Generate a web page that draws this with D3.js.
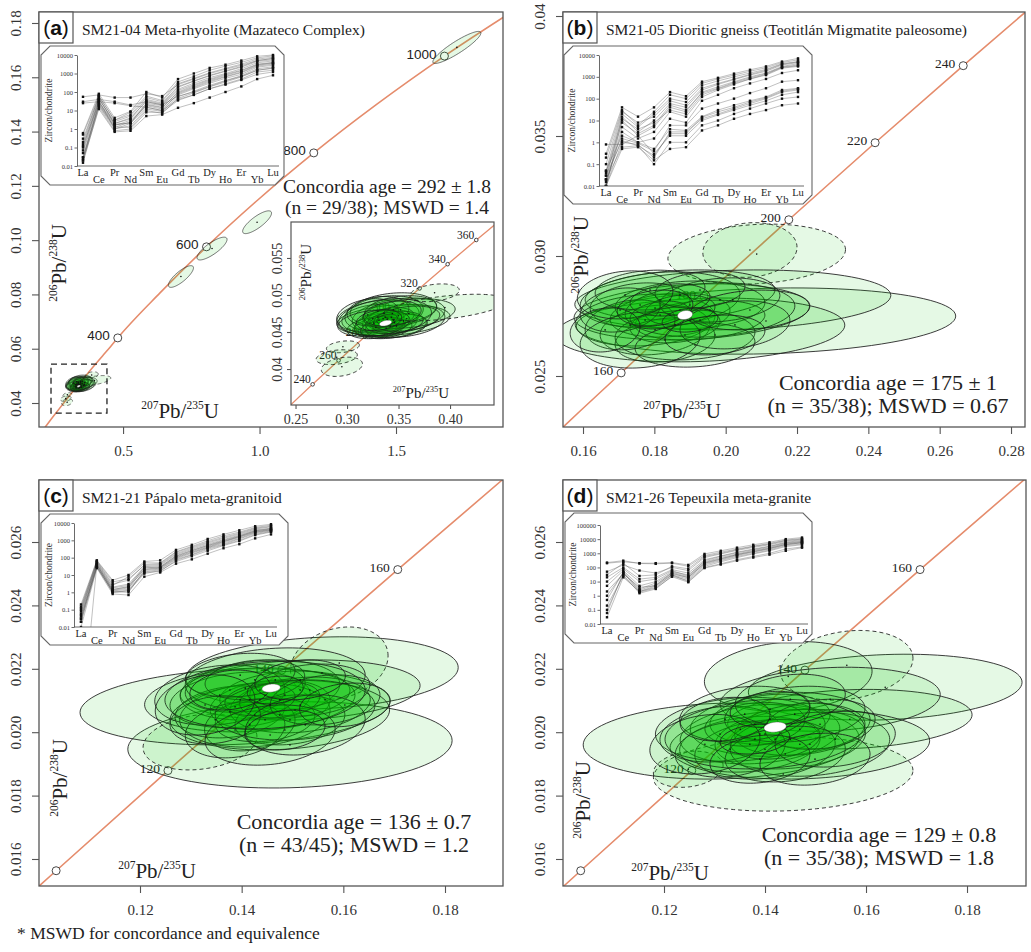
<!DOCTYPE html>
<html><head><meta charset="utf-8">
<script src="https://cdn.jsdelivr.net/npm/d3@7/dist/d3.min.js"></script>
<style>body{margin:0;background:#fff}svg{display:block}</style>
</head><body>
<svg id="fig" width="1031" height="952"></svg>
<script>
// ---------------- data ----------------
const reeElements = ["La","Ce","Pr","Nd","Sm","Eu","Gd","Tb","Dy","Ho","Er","Yb","Lu"];

// chondrite-normalised zircon REE patterns (one row per grain)
const reeA = [
[0.02,20,1.2,2.5,18,12,70,150,300,550,900,2200,2800],
[0.03,25,1.5,3,22,15,90,190,400,700,1200,2800,3600],
[0.015,15,0.8,1,8,8,35,70,150,280,500,1200,1500],
[0.05,30,2,4,30,20,140,300,600,1000,1800,3800,4800],
[0.1,40,2.5,5,40,25,200,400,800,1400,2400,5000,6500],
[0.2,60,3,8,60,35,350,700,1500,2500,4000,7000,9000],
[0.6,80,4,9,100,50,500,1000,2000,3000,5000,8500,10000],
[0.02,12,0.7,0.8,5,6,14,25,50,100,200,500,800],
[30,40,30,20,30,20,60,100,200,400,700,1500,2000],
[55,70,50,50,80,60,250,500,1000,1700,2800,5000,6500],
[25,30,25,18,15,10,40,70,150,250,450,900,1200],
[0.3,50,1.8,2,25,18,120,250,500,900,1500,3200,4000],
[0.07,35,1,1.5,12,9,55,110,230,420,750,1800,2300],
[0.15,45,2,3.5,35,22,180,380,750,1300,2200,4500,5500],
[0.03,18,1,2,15,10,80,170,350,650,1100,2500,3200],
[0.5,60,3,6,50,30,280,550,1100,1900,3200,6000,7500],
[0.025,22,1.3,1.2,10,7,45,90,190,350,650,1500,1900],
[0.12,28,1.7,2.2,20,14,100,220,450,800,1400,3000,3800]
];
const reeB = [
[0.01,10,2,5,40,25,200,350,600,1000,1500,3000,4000],
[0.02,15,3,10,60,40,250,450,750,1200,1800,3500,4500],
[0.05,20,5,20,100,70,400,650,1000,1500,2200,4000,5000],
[0.3,40,15,40,200,130,600,900,1400,2100,3000,5000,7000],
[0.01,5,1.5,3,25,15,120,250,450,800,1200,2500,3000],
[0.03,8,2.5,6,50,30,180,300,550,900,1400,2800,3500],
[0.015,3,1,1.5,12,8,80,150,300,500,800,1500,2000],
[0.1,25,8,15,80,50,300,500,800,1300,2000,3800,4800],
[0.01,1,0.8,0.2,3,3,12,20,35,60,100,200,250],
[0.02,0.6,0.7,0.1,1,1,6,10,20,35,60,100,120],
[0.05,2,1,0.5,4,3.5,15,30,50,80,120,250,300],
[0.01,0.5,0.6,0.15,0.5,0.6,3.5,6,12,20,30,50,60],
[0.8,0.8,2,0.3,2,2,10,18,30,50,80,150,200],
[0.02,1.5,0.9,0.4,6,6,35,60,100,180,300,600,700],
[0.04,12,4,8,30,20,150,280,500,800,1300,2700,3200],
[0.2,30,6,25,150,100,500,800,1200,1800,2600,4500,6000],
[0.03,1.2,0.7,0.25,2.5,2.5,14,25,40,70,110,220,280]
];
const reeC = [
[0.02,30,1.2,1.5,15,20,80,150,350,600,1200,2500,3500],
[0.05,40,1.5,2,20,25,100,200,400,800,1500,3000,4000],
[0.1,50,2,3,30,35,150,300,600,1100,2000,4000,5000],
[0.2,70,5,10,60,70,280,550,1200,2200,3800,6500,8500],
[0.01,25,0.8,0.7,8,14,45,80,170,350,600,1300,2200],
[0.03,35,1,1.2,12,18,60,120,250,500,900,2000,3000],
[0.08,45,1.8,2.5,25,30,120,250,500,900,1700,3500,4500],
[0.15,60,3,5,40,45,200,400,800,1500,2600,5000,6500],
[0.04,30,1.1,1,18,22,90,180,380,700,1300,2800,3800],
[0.06,55,2.5,8,50,50,220,450,950,1800,3000,5500,7500],
[1e-8,40,1.3,1.8,22,26,110,220,450,850,1600,3200,4200],
[0.02,28,1,1.3,14,16,70,140,300,550,1000,2200,3200],
[0.12,65,4,6,35,40,170,350,700,1300,2300,4500,6000],
[0.03,38,1.4,2.2,28,28,130,260,520,1000,1800,3600,4800]
];
const reeD = [
[200,250,200,200,220,150,900,1500,2500,4000,6000,10000,13000],
[220,300,190,180,200,120,700,1200,2000,3200,5000,8500,11000],
[50,150,60,40,100,60,500,900,1600,2600,4000,7000,9000],
[20,100,15,20,70,40,350,650,1200,2000,3200,6000,8000],
[5,60,5,10,50,30,250,500,900,1600,2600,5000,6500],
[1,40,2.5,6,35,20,180,350,700,1200,2000,4000,5500],
[0.1,30,1.5,3,25,12,120,250,500,900,1500,3000,4000],
[0.03,20,2,4,30,10,100,180,350,600,1000,2000,2800],
[10,80,10,15,60,25,300,600,1100,1800,3000,5500,7000],
[0.5,50,3,8,40,18,200,400,800,1300,2200,4200,5500],
[2,35,4,5,30,15,150,300,600,1000,1700,3500,4500],
[0.2,25,1.8,3.5,22,9,90,160,300,500,800,1500,2500],
[30,200,25,30,120,80,600,1000,1800,3000,4500,8000,10000],
[0.06,45,2,5,45,22,220,420,800,1400,2300,4500,6000]
];

// concordia table: [age (Ma), 207Pb/235U, 206Pb/238U]
const concordiaA = [
[180,0.1939,0.02832],[200,0.2177,0.03151],[220,0.2419,0.03472],[240,0.2666,0.03793],
[260,0.2918,0.04116],[280,0.3175,0.04439],[300,0.3437,0.04764],[320,0.3705,0.05089],
[340,0.3977,0.05416],[360,0.4255,0.05743],[380,0.4539,0.06072],[400,0.4806,0.06398],
[500,0.6362,0.08065],[600,0.8057,0.09754],[700,0.9925,0.11470],[800,1.1987,0.13214],
[900,1.4264,0.14983],[1000,1.6774,0.16781],[1100,1.9546,0.18605]];
const concordiaB = [
[140,0.1479,0.02196],[150,0.1592,0.02354],[160,0.1707,0.02513],[180,0.1939,0.02832],
[200,0.2177,0.03151],[220,0.2419,0.03472],[240,0.2666,0.03793],[260,0.2918,0.04116]];
const concordiaC = [
[95,0.0981,0.01485],[100,0.1035,0.01563],[120,0.1255,0.01879],[140,0.1479,0.02196],
[160,0.1707,0.02513],[180,0.1939,0.02832]];
const concordiaD = concordiaC;

// ages marked with a circle, and those that also carry a label
const markAgesA = [400,600,800,1000], labelAgesA = [400,600,800,1000];
const markAgesAInset = [240,260,280,300,320,340,360], labelAgesAInset = [240,260,280,300,320,340,360];
const markAgesB = [160,180,200,220,240], labelAgesB = [160,180,200,220,240];
const markAgesC = [100,120,140,160], labelAgesC = [120,140,160];
const markAgesD = [100,120,140,160], labelAgesD = [120,140,160];

// error ellipses: [207/235, 206/238, half-width x, half-height y, rho, excluded]
const ellipsesA = [
[0.345,0.0466,0.055,0.0021,0.25,0],[0.330,0.0470,0.040,0.0023,0.25,0],[0.350,0.0472,0.045,0.0024,0.3,0],
[0.338,0.0462,0.030,0.0018,0.25,0],[0.342,0.0458,0.035,0.0017,0.3,0],[0.325,0.0468,0.030,0.0019,0.2,0],
[0.355,0.0465,0.040,0.0022,0.25,0],[0.336,0.0475,0.038,0.0024,0.25,0],[0.332,0.0460,0.025,0.0016,0.3,0],
[0.345,0.0480,0.042,0.0023,0.2,0],[0.340,0.0465,0.020,0.0012,0.3,0],[0.328,0.0456,0.028,0.0015,0.25,0],
[0.348,0.0458,0.030,0.0016,0.3,0],[0.335,0.0468,0.018,0.0011,0.3,0],[0.360,0.0475,0.045,0.0020,0.3,0],
[0.320,0.0473,0.030,0.0022,0.25,0],[0.343,0.0470,0.022,0.0013,0.25,0],[0.338,0.0455,0.025,0.0013,0.3,0],
[0.352,0.0480,0.035,0.0019,0.25,0],[0.330,0.0478,0.030,0.0020,0.2,0],[0.340,0.0460,0.015,0.0010,0.3,0],
[0.346,0.0463,0.028,0.0015,0.25,0],[0.334,0.0464,0.012,0.0008,0.3,0],[0.326,0.0462,0.035,0.0018,0.25,0],
[0.358,0.0468,0.032,0.0017,0.3,0],[0.337,0.0470,0.045,0.0025,0.25,0],[0.344,0.0475,0.028,0.0017,0.25,0],
[0.339,0.0467,0.010,0.0007,0.3,0],[0.331,0.0466,0.022,0.0014,0.25,0],
[0.395,0.0483,0.060,0.0018,0.5,1],[0.385,0.0503,0.024,0.0012,0.3,1],[0.296,0.0430,0.016,0.0008,0.3,1],
[0.290,0.0416,0.020,0.0010,0.3,1],[0.295,0.0403,0.020,0.0013,0.3,1],
[1.723,0.1710,0.088,0.0059,0.9,0],[0.991,0.1066,0.053,0.0042,0.8,0],
[0.826,0.0969,0.055,0.0042,0.8,0],[0.712,0.0866,0.046,0.0040,0.8,0]];
const ellipsesB = [
[0.2087,0.03008,0.0249,0.00125,0.15,1],[0.2068,0.03025,0.0132,0.00114,0.1,1],
[0.2113,0.02729,0.0532,0.00138,0.15,0],[0.2020,0.02817,0.0443,0.00125,0.15,0],
[0.1928,0.02692,0.0406,0.00133,0.15,0],[0.1905,0.02767,0.0330,0.00117,0.2,0],
[0.1872,0.02838,0.0266,0.00104,0.2,0],
[0.1816,0.02817,0.0224,0.00117,0.2,0],[0.1774,0.02733,0.0196,0.00108,0.15,0],
[0.1844,0.02754,0.0168,0.00092,0.2,0],[0.1900,0.02796,0.0210,0.00100,0.1,0],
[0.1802,0.02692,0.0154,0.00104,0.2,0],[0.1928,0.02733,0.0182,0.00083,0.25,0],
[0.1760,0.02796,0.0140,0.00092,0.15,0],[0.1858,0.02713,0.0126,0.00075,0.2,0],
[0.1956,0.02775,0.0238,0.00113,0.15,0],[0.1830,0.02650,0.0140,0.00092,0.2,0],
[0.1886,0.02671,0.0196,0.00104,0.1,0],[0.1732,0.02713,0.0126,0.00104,0.2,0],
[0.1984,0.02817,0.0168,0.00092,0.2,0],[0.1788,0.02858,0.0154,0.00083,0.15,0],
[0.1872,0.02775,0.0098,0.00063,0.2,0],[0.1914,0.02629,0.0168,0.00092,0.15,0],
[0.1704,0.02775,0.0112,0.00092,0.2,0],[0.2026,0.02713,0.0154,0.00100,0.2,0],
[0.1816,0.02754,0.0084,0.00058,0.25,0],[0.1928,0.02858,0.0126,0.00075,0.2,0],
[0.1760,0.02650,0.0168,0.00117,0.15,0],[0.2068,0.02775,0.0168,0.00083,0.2,0],
[0.1844,0.02817,0.0112,0.00067,0.2,0],[0.1718,0.02838,0.0134,0.00100,0.15,0],
[0.1900,0.02733,0.0078,0.00050,0.2,0],[0.1970,0.02671,0.0140,0.00083,0.2,0],
[0.1802,0.02783,0.0106,0.00075,0.2,0],[0.1662,0.02692,0.0098,0.00092,0.15,0]];
const ellipsesC = [
[0.1495,0.01960,0.0319,0.00136,0.1,0],[0.1387,0.02080,0.0305,0.00120,0.15,0],
[0.1558,0.02187,0.0268,0.00114,0.15,0],[0.1592,0.02218,0.0096,0.00114,0.2,1],
[0.1318,0.01969,0.0112,0.00088,0.2,1],[0.1515,0.02133,0.0236,0.00095,0.15,0],
[0.1416,0.02102,0.0207,0.00101,0.15,0],[0.1475,0.02054,0.0216,0.00110,0.15,0],
[0.1397,0.02102,0.0138,0.00088,0.2,0],[0.1436,0.02133,0.0157,0.00095,0.2,0],
[0.1456,0.02086,0.0118,0.00079,0.2,0],[0.1426,0.02054,0.0148,0.00101,0.15,0],
[0.1485,0.02117,0.0128,0.00076,0.2,0],[0.1377,0.02064,0.0108,0.00082,0.2,0],
[0.1515,0.02086,0.0138,0.00088,0.2,0],[0.1407,0.02139,0.0118,0.00076,0.2,0],
[0.1466,0.02165,0.0177,0.00101,0.15,0],[0.1446,0.02039,0.0098,0.00069,0.2,0],
[0.1357,0.02117,0.0128,0.00095,0.2,0],[0.1495,0.02039,0.0108,0.00079,0.2,0],
[0.1416,0.02023,0.0089,0.00082,0.2,0],[0.1534,0.02133,0.0118,0.00082,0.2,0],
[0.1387,0.02007,0.0098,0.00088,0.2,0],[0.1475,0.02102,0.0079,0.00057,0.2,0],
[0.1436,0.02102,0.0069,0.00050,0.2,0],[0.1426,0.02165,0.0098,0.00063,0.2,0],
[0.1505,0.02070,0.0157,0.00095,0.15,0],[0.1348,0.02039,0.0089,0.00076,0.2,0],
[0.1564,0.02102,0.0108,0.00079,0.2,0],[0.1456,0.01991,0.0128,0.00095,0.2,0],
[0.1397,0.02180,0.0108,0.00069,0.2,0],[0.1525,0.02023,0.0118,0.00095,0.2,0],
[0.1446,0.02117,0.0197,0.00107,0.15,0],[0.1328,0.02086,0.0098,0.00095,0.2,0],
[0.1603,0.02086,0.0089,0.00069,0.2,0],[0.1466,0.02133,0.0055,0.00044,0.2,0],
[0.1377,0.02133,0.0079,0.00063,0.2,0],[0.1485,0.02007,0.0079,0.00063,0.2,0],
[0.1515,0.02165,0.0089,0.00063,0.2,0]];
const ellipsesD = [
[0.1436,0.01868,0.0257,0.00117,0.1,1],[0.1638,0.02142,0.0271,0.00104,0.15,0],
[0.1313,0.01972,0.0273,0.00120,0.1,0],[0.1562,0.02211,0.0131,0.00110,0.2,1],
[0.1446,0.02176,0.0166,0.00110,0.15,0],[0.1248,0.01883,0.0069,0.00057,0.2,1],
[0.1568,0.02041,0.0242,0.00094,0.15,0],[0.1529,0.02104,0.0218,0.00101,0.15,0],
[0.1469,0.01962,0.0257,0.00110,0.1,0],
[0.1390,0.01994,0.0158,0.00094,0.2,0],[0.1430,0.02025,0.0178,0.00101,0.15,0],
[0.1370,0.01962,0.0139,0.00088,0.2,0],[0.1450,0.01978,0.0149,0.00094,0.2,0],
[0.1410,0.02041,0.0119,0.00079,0.2,0],[0.1351,0.02009,0.0168,0.00101,0.15,0],
[0.1469,0.02009,0.0129,0.00082,0.2,0],[0.1400,0.01946,0.0139,0.00094,0.2,0],
[0.1311,0.01994,0.0119,0.00088,0.2,0],[0.1489,0.01962,0.0158,0.00101,0.15,0],
[0.1420,0.01978,0.0089,0.00063,0.2,0],[0.1380,0.02025,0.0099,0.00069,0.2,0],
[0.1459,0.02057,0.0139,0.00088,0.2,0],[0.1331,0.01946,0.0109,0.00088,0.2,0],
[0.1509,0.02025,0.0109,0.00079,0.2,0],[0.1360,0.02057,0.0129,0.00088,0.2,0],
[0.1440,0.01931,0.0119,0.00088,0.2,0],[0.1400,0.01994,0.0198,0.00110,0.15,0],
[0.1281,0.01962,0.0109,0.00094,0.2,0],[0.1539,0.01978,0.0119,0.00088,0.2,0],
[0.1390,0.01915,0.0099,0.00076,0.2,0],[0.1450,0.02104,0.0109,0.00079,0.2,0],
[0.1321,0.02041,0.0089,0.00069,0.2,0],[0.1410,0.02072,0.0079,0.00057,0.2,0],
[0.1499,0.01915,0.0109,0.00082,0.2,0],[0.1380,0.01978,0.0069,0.00047,0.2,0]];

// concordia-age ellipses
const concAgeEllA = [0.3374,0.0462,0.006,0.0004,0.4];
const concAgeEllB = [0.1886,0.02754,0.0021,0.00019,0.2];
const concAgeEllC = [0.1458,0.02139,0.0018,0.00013,0.2];
const concAgeEllD = [0.1420,0.02016,0.0022,0.00016,0.2];

// zoom window in panel a: [x0, x1, y0, y1]
const zoomBoxA = [0.236,0.441,0.0363,0.0543];

const titles = {
  a:"SM21-04 Meta-rhyolite (Mazateco Complex)",
  b:"SM21-05 Dioritic gneiss (Teotitlán Migmatite paleosome)",
  c:"SM21-21 Pápalo meta-granitoid",
  d:"SM21-26 Tepeuxila meta-granite"};
const ageLines = {
  a:["Concordia age = 292 ± 1.8","(n = 29/38); MSWD = 1.4"],
  b:["Concordia age = 175 ± 1","(n = 35/38); MSWD = 0.67"],
  c:["Concordia age = 136 ± 0.7","(n = 43/45); MSWD = 1.2"],
  d:["Concordia age = 129 ± 0.8","(n = 35/38); MSWD = 1.8"]};

const xTicksA = [0.5,1.0,1.5], xLabelsA = ["0.5","1.0","1.5"];
const yTicksA = [0.04,0.06,0.08,0.10,0.12,0.14,0.16,0.18], yLabelsA = ["0.04","0.06","0.08","0.10","0.12","0.14","0.16","0.18"];
const xTicksB = [0.16,0.18,0.20,0.22,0.24,0.26,0.28], xLabelsB = ["0.16","0.18","0.20","0.22","0.24","0.26","0.28"];
const yTicksB = [0.025,0.030,0.035,0.040], yLabelsB = ["0.025","0.030","0.035","0.04"];
const xTicksCD = [0.12,0.14,0.16,0.18], xLabelsCD = ["0.12","0.14","0.16","0.18"];
const yTicksCD = [0.016,0.018,0.020,0.022,0.024,0.026], yLabelsCD = ["0.016","0.018","0.020","0.022","0.024","0.026"];
const xTicksInset = [0.25,0.30,0.35,0.40], xLabelsInset = ["0.25","0.30","0.35","0.40"];
const yTicksInset = [0.04,0.045,0.05,0.055], yLabelsInset = ["0.04","0.045","0.05","0.055"];
const reeTickValues = [0.01,0.1,1,10,100,1000,10000,100000];
const reeTickLabels = ["0.01","0.1","1","10","100","1000","10000","100000"];
const footnote = "* MSWD for concordance and equivalence";

// ---------------- drawing ----------------
const SERIF = "'Liberation Serif','Times New Roman',serif";
const SANS = "'Liberation Sans',Arial,sans-serif";
const FRAME = "#555";
const CONC = "#e58c6c";

const svg = d3.select("#fig");
svg.append("rect").attr("width",1031).attr("height",952).attr("fill","#fff");
const defs = svg.append("defs");

const layout = {
  a:{frame:[39,12,503,427], x:[0.192,1.892], y:[0.03116,0.18405],
     xT:xTicksA,xL:xLabelsA,yT:yTicksA,yL:yLabelsA, conc:concordiaA, marks:markAgesA, labels:labelAgesA,
     ell:ellipsesA, white:concAgeEllA,
     age:[387,193,19.5,21], ylab:[66,263], xlab:[180,418], markFont:SANS,
     ree:{rows:reeA, box:[41,46,284,185], axisX:77, yTop:55, y0:166, xL:83, xR:273, top:10000}},
  b:{frame:[563,12,1025,427], x:[0.15439,0.28392], y:[0.022875,0.040167],
     xT:xTicksB,xL:xLabelsB,yT:yTicksB,yL:yLabelsB, conc:concordiaB, marks:markAgesB, labels:labelAgesB,
     ell:ellipsesB, white:concAgeEllB,
     age:[888,390,22,23], ylab:[588,255], xlab:[682,418], markFont:SERIF,
     ree:{rows:reeB, box:[564,46,812,204], axisX:599, yTop:55, y0:186, xL:606, xR:798, top:10000}},
  c:{frame:[39,480,503,886], x:[0.10013,0.19141], y:[0.015148,0.027956],
     xT:xTicksCD,xL:xLabelsCD,yT:yTicksCD,yL:yLabelsCD, conc:concordiaC, marks:markAgesC, labels:labelAgesC,
     ell:ellipsesC, white:concAgeEllC,
     age:[354,829,22,23], ylab:[67,778], xlab:[157,878], markFont:SERIF,
     ree:{rows:reeC, box:[41,514,288,645], axisX:74, yTop:523, y0:627, xL:81, xR:271, top:10000}},
  d:{frame:[563,480,1026,886], x:[0.1000,0.19168], y:[0.015148,0.027956],
     xT:xTicksCD,xL:xLabelsCD,yT:yTicksCD,yL:yLabelsCD, conc:concordiaD, marks:markAgesD, labels:labelAgesD,
     ell:ellipsesD, white:concAgeEllD,
     age:[879,842,22,23], ylab:[590,800], xlab:[670,880], markFont:SERIF,
     ree:{rows:reeD, box:[565,513,812,643], axisX:600, yTop:525, y0:624, xL:607, xR:802, top:100000}}
};

function clipRect(id, x0, y0, x1, y1){
  defs.append("clipPath").attr("id",id).append("rect")
    .attr("x",x0).attr("y",y0).attr("width",x1-x0).attr("height",y1-y0);
  return `url(#${id})`;
}

function ellipsePath(r, xs, ys){
  const [cx,cy,sx,sy,rho] = r, q = Math.sqrt(1-rho*rho), n = 96;
  const pts = d3.range(n).map(i=>{
    const t = 2*Math.PI*i/n;
    return [xs(cx+sx*Math.cos(t)), ys(cy+sy*(rho*Math.cos(t)+q*Math.sin(t)))];
  });
  return d3.line()(pts)+"Z";
}

function isotopeLabel(g, x, y, big, small, numA, numB, rotate){
  const t = g.append("text").attr("font-family",SERIF).attr("fill","#222")
    .attr("text-anchor","middle").attr("x",x).attr("y",y);
  if(rotate) t.attr("transform",`rotate(-90,${x},${y})`);
  const up = -big*0.42;
  t.append("tspan").attr("font-size",small).attr("dy",up).text(numA);
  t.append("tspan").attr("font-size",big).attr("dy",-up).text("Pb/");
  t.append("tspan").attr("font-size",small).attr("dy",up).text(numB);
  t.append("tspan").attr("font-size",big).attr("dy",-up).text("U");
}

function drawConcordia(g, table, marks, labels, xs, ys, opt){
  g.append("path").datum(table)
    .attr("d", d3.line().x(d=>xs(d[1])).y(d=>ys(d[2])).curve(d3.curveMonotoneX))
    .attr("fill","none").attr("stroke",CONC).attr("stroke-width",opt.lw);
  const lab = table.filter(d=>labels.includes(d[0]));
  g.selectAll(null).data(lab).join("text")
    .attr("x",d=>xs(d[1])-opt.dx).attr("y",d=>ys(d[2])-opt.dy)
    .attr("text-anchor","end").attr("dominant-baseline","central")
    .attr("font-family",opt.font).attr("font-size",opt.fs).attr("fill","#222")
    .text(d=>d[0]);
  g.selectAll(null).data(table.filter(d=>marks.includes(d[0]))).join("circle")
    .attr("cx",d=>xs(d[1])).attr("cy",d=>ys(d[2])).attr("r",opt.r)
    .attr("fill","#fff").attr("stroke","#333").attr("stroke-width",0.9);
}

function drawEllipses(g, list, white, xs, ys, lw){
  list.forEach(r=>{
    g.append("path").attr("d",ellipsePath(r,xs,ys))
      .attr("fill","rgb(0,195,0)").attr("fill-opacity",0.1)
      .attr("stroke","#1b1b1b").attr("stroke-opacity",0.85).attr("stroke-width",lw)
      .attr("stroke-dasharray", r[5] ? "4,3" : null);
  });
  g.selectAll(null).data(list).join("circle")
    .attr("cx",d=>xs(d[0])).attr("cy",d=>ys(d[1])).attr("r",0.8).attr("fill","#111");
  g.append("path").attr("d",ellipsePath(white,xs,ys))
    .attr("fill","#fff").attr("stroke","#444").attr("stroke-width",0.4);
}

function styleAxis(sel, fs){
  sel.select(".domain").remove();
  sel.selectAll("line").attr("stroke",FRAME).attr("stroke-width",1.1);
  sel.selectAll("text").attr("font-family",SERIF).attr("font-size",fs).attr("fill","#333");
}

function drawAxes(g, xs, ys, fr, xT, xL, yT, yL, fs, tick, labOff){
  const xm = new Map(xT.map((v,i)=>[v,xL[i]])), ym = new Map(yT.map((v,i)=>[v,yL[i]]));
  g.append("g").attr("transform",`translate(0,${fr[3]})`)
    .call(d3.axisBottom(xs).tickValues(xT).tickFormat(d=>xm.get(d)).tickSize(tick).tickSizeOuter(0).tickPadding(labOff))
    .call(s=>styleAxis(s,fs));
  g.append("g").attr("transform",`translate(${fr[0]},0)`)
    .call(d3.axisLeft(ys).tickValues(yT).tickFormat(d=>ym.get(d)).tickSize(tick).tickSizeOuter(0))
    .call(s=>styleAxis(s,fs))
    .call(s=>s.selectAll("text").attr("transform","rotate(-90)")
      .attr("x",0).attr("y",-(labOff+tick)).attr("dy",0).attr("text-anchor","middle"));
}

function drawREE(g, cfg){
  const [bx0,by0,bx1,by1] = cfg.box, c = 9;
  g.append("path")
    .attr("d",`M${bx0+c},${by0}H${bx1-c}L${bx1},${by0+c}V${by1-c}L${bx1-c},${by1}H${bx0+c}L${bx0},${by1-c}V${by0+c}Z`)
    .attr("fill","#fff").attr("stroke","#666").attr("stroke-width",1.1);
  const xs = d3.scalePoint().domain(reeElements).range([cfg.xL,cfg.xR]);
  const ys = d3.scaleLog().domain([0.01,cfg.top]).range([cfg.y0,cfg.yTop]);
  const id = "ree"+cfg.axisX;
  const clip = clipRect(id, cfg.axisX, cfg.yTop-4, cfg.xR+6, cfg.y0);
  const lines = g.append("g").attr("clip-path",clip);
  const line = d3.line().x((d,i)=>xs(reeElements[i])).y(d=>ys(d));
  lines.selectAll(null).data(cfg.rows).join("path").attr("d",line)
    .attr("fill","none").attr("stroke","#555").attr("stroke-width",0.5).attr("stroke-opacity",0.75);
  cfg.rows.forEach(row=>{
    lines.selectAll(null).data(row).join("rect")
      .attr("x",(d,i)=>xs(reeElements[i])-1.2).attr("y",d=>ys(d)-1.2)
      .attr("width",2.4).attr("height",2.4).attr("fill","#111");
  });
  const tv = reeTickValues.filter(v=>v<=cfg.top);
  const tl = new Map(reeTickValues.map((v,i)=>[v,reeTickLabels[i]]));
  g.append("g").attr("transform",`translate(${cfg.axisX},0)`)
    .call(d3.axisLeft(ys).tickValues(tv).tickFormat(d=>tl.get(d)).tickSize(2.5).tickSizeOuter(0).tickPadding(1.5))
    .call(s=>{
      s.select(".domain").attr("stroke","#444").attr("stroke-width",0.8);
      s.selectAll("line").attr("stroke","#444").attr("stroke-width",0.8);
      s.selectAll("text").attr("font-family",SERIF).attr("font-size",6.5).attr("fill","#333");
    });
  g.append("line").attr("x1",cfg.axisX).attr("x2",cfg.xR+6).attr("y1",cfg.y0).attr("y2",cfg.y0)
    .attr("stroke","#444").attr("stroke-width",0.8);
  g.selectAll(null).data(reeElements).join("text")
    .attr("x",d=>xs(d)).attr("y",(d,i)=>cfg.y0+(i%2===0?9.5:16.5))
    .attr("text-anchor","middle").attr("font-family",SERIF).attr("font-size",10.5).attr("fill","#222")
    .text(d=>d);
  const ly = (cfg.y0+cfg.yTop)/2, lx = bx0+11;
  g.append("text").attr("x",lx).attr("y",ly).attr("transform",`rotate(-90,${lx},${ly})`)
    .attr("text-anchor","middle").attr("font-family",SERIF).attr("font-size",9.5).attr("fill","#333")
    .text("Zircon/chondrite");
}

Object.entries(layout).forEach(([key,L])=>{
  const fr = L.frame;
  const g = svg.append("g");
  const xs = d3.scaleLinear().domain(L.x).range([fr[0],fr[2]]);
  const ys = d3.scaleLinear().domain(L.y).range([fr[3],fr[1]]);
  const clip = clipRect("clip"+key, fr[0], fr[1], fr[2], fr[3]);

  drawAxes(g, xs, ys, fr, L.xT, L.xL, L.yT, L.yL, 15, 7, 11);

  const plot = g.append("g").attr("clip-path",clip);
  drawConcordia(plot, L.conc, L.marks, L.labels, xs, ys, {lw:1.6, dx:8, dy:2, font:L.markFont, fs:13.5, r:4});
  drawEllipses(plot, L.ell, L.white, xs, ys, key==="a" ? 0.7 : 1);

  // axis titles
  isotopeLabel(g, L.ylab[0], L.ylab[1], 21, 11.5, "206", "238", true);
  isotopeLabel(g, L.xlab[0], L.xlab[1], 21, 11.5, "207", "235", false);

  // concordia age statement
  ageLines[key].forEach((s,i)=>{
    g.append("text").attr("x",L.age[0]).attr("y",L.age[1]+i*L.age[3])
      .attr("text-anchor","middle").attr("font-family",SERIF).attr("font-size",L.age[2]).attr("fill","#222")
      .text(s);
  });

  if(key==="a"){
    // dashed zoom window around the young cluster
    plot.append("rect")
      .attr("x",xs(zoomBoxA[0])).attr("y",ys(zoomBoxA[3]))
      .attr("width",xs(zoomBoxA[1])-xs(zoomBoxA[0])).attr("height",ys(zoomBoxA[2])-ys(zoomBoxA[3]))
      .attr("fill","none").attr("stroke","#222").attr("stroke-width",1.3).attr("stroke-dasharray","6,4");
    // enlarged view of the cluster
    const ir = [291,222,494,405];
    const ix = d3.scaleLinear().domain([0.2456,0.4427]).range([ir[0],ir[2]]);
    const iy = d3.scaleLinear().domain([0.03514,0.05986]).range([ir[3],ir[1]]);
    g.append("rect").attr("x",ir[0]).attr("y",ir[1]).attr("width",ir[2]-ir[0]).attr("height",ir[3]-ir[1])
      .attr("fill","#fff");
    drawAxes(g, ix, iy, ir, xTicksInset, xLabelsInset, yTicksInset, yLabelsInset, 14, 4, 5);
    const ip = g.append("g").attr("clip-path",clipRect("clipInset",ir[0],ir[1],ir[2],ir[3]));
    drawConcordia(ip, concordiaA, markAgesAInset, labelAgesAInset, ix, iy, {lw:1.3, dx:2, dy:5, font:SERIF, fs:11.5, r:1.8});
    drawEllipses(ip, ellipsesA, concAgeEllA, ix, iy, 1);
    isotopeLabel(g, 311, 272, 15, 8.5, "206", "238", true);
    isotopeLabel(g, 421, 398, 15, 8.5, "207", "235", false);
    g.append("rect").attr("x",ir[0]).attr("y",ir[1]).attr("width",ir[2]-ir[0]).attr("height",ir[3]-ir[1])
      .attr("fill","none").attr("stroke",FRAME).attr("stroke-width",1.2);
  }

  // REE spider-diagram inset
  drawREE(g, L.ree);

  // frame and sample tag
  g.append("rect").attr("x",fr[0]).attr("y",fr[1]).attr("width",fr[2]-fr[0]).attr("height",fr[3]-fr[1])
    .attr("fill","none").attr("stroke",FRAME).attr("stroke-width",1.3);
  g.append("rect").attr("x",fr[0]).attr("y",fr[1]).attr("width",34).attr("height",31)
    .attr("fill","#fff").attr("stroke",FRAME).attr("stroke-width",1.2);
  const tag = g.append("text").attr("x",fr[0]+17).attr("y",fr[1]+23).attr("text-anchor","middle")
    .attr("font-family",SANS).attr("font-size",21).attr("fill","#111");
  tag.append("tspan").text("(");
  tag.append("tspan").attr("font-weight","bold").text(key);
  tag.append("tspan").text(")");
  g.append("text").attr("x",fr[0]+43).attr("y",fr[1]+23)
    .attr("font-family",SERIF).attr("font-size",15.5).attr("fill","#222").text(titles[key]);
});

svg.append("text").attr("x",17).attr("y",939).attr("font-family",SERIF).attr("font-size",17.5)
  .attr("fill","#222").text(footnote);
</script>
</body></html>
